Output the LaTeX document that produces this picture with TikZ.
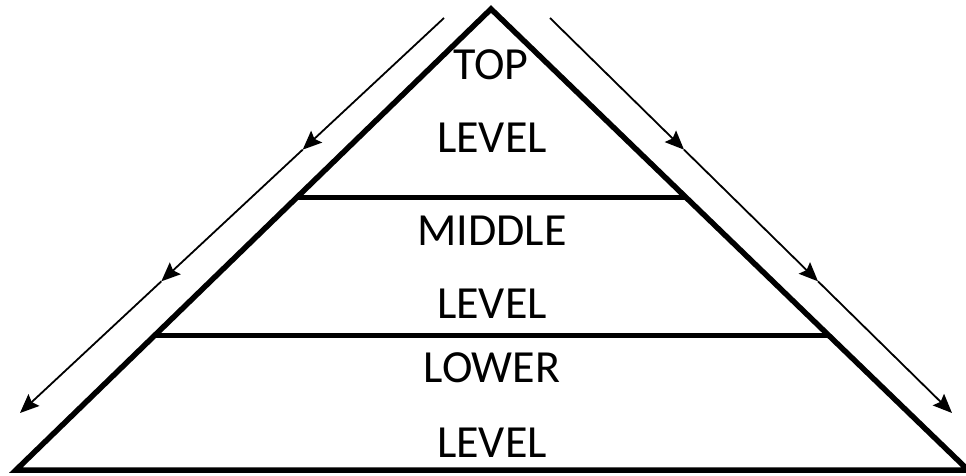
\documentclass[tikz,border=0pt]{standalone}
\usepackage{fontspec}
\setmainfont{Carlito}
\usetikzlibrary{arrows.meta,calc}
\begin{document}
\begin{tikzpicture}[x=1pt,y=-1pt,
  edge/.style={line width=5.5pt,line join=miter,black},
  tier/.style={line width=5pt,black},
  flow/.style={line width=1.8pt,black,-{Stealth[length=19pt,width=16pt,inset=3pt]}},
  lbl/.style={anchor=base,inner sep=0pt,font=\fontsize{46}{55}\selectfont}]
\useasboundingbox (0,0) rectangle (966,476);
\begin{scope}
\clip (0,0) rectangle (966,476);
\coordinate (apex) at (491,9);
\coordinate (L) at (16,470);
\coordinate (R) at (968,470);
\draw[edge] (L) -- (apex) -- (R) -- cycle;
\coordinate (m1l) at ($(apex)!{189/461}!(L)$);
\coordinate (m1r) at ($(apex)!{189/461}!(R)$);
\coordinate (m2l) at ($(apex)!{327/461}!(L)$);
\coordinate (m2r) at ($(apex)!{327/461}!(R)$);
\draw[tier] (m1l) -- (m1r);
\draw[tier] (m2l) -- (m2r);
\end{scope}
% arrows
\coordinate (ls) at (444,18);
\coordinate (le) at (20,413);
\coordinate (la) at ($(ls)!{1/3}!(le)$);
\coordinate (lb) at ($(ls)!{2/3}!(le)$);
\coordinate (rs) at (550,18);
\coordinate (re) at (952,413);
\coordinate (ra) at ($(rs)!{1/3}!(re)$);
\coordinate (rb) at ($(rs)!{2/3}!(re)$);
\draw[flow] (ls) -- (la);
\draw[flow] (la) -- (lb);
\draw[flow] (lb) -- (le);
\draw[flow] (rs) -- (ra);
\draw[flow] (ra) -- (rb);
\draw[flow] (rb) -- (re);
% labels
\node[lbl] (top) at (491,80) {TOP};
\node[lbl] (lv1) at (492,153) {LEVEL};
\node[lbl] (mid) at (492,245) {MIDDLE};
\node[lbl] (lv2) at (492,318) {LEVEL};
\node[lbl] (low) at (492,382) {LOWER};
\node[lbl] (lv3) at (492,457) {LEVEL};
\end{tikzpicture}
\end{document}
